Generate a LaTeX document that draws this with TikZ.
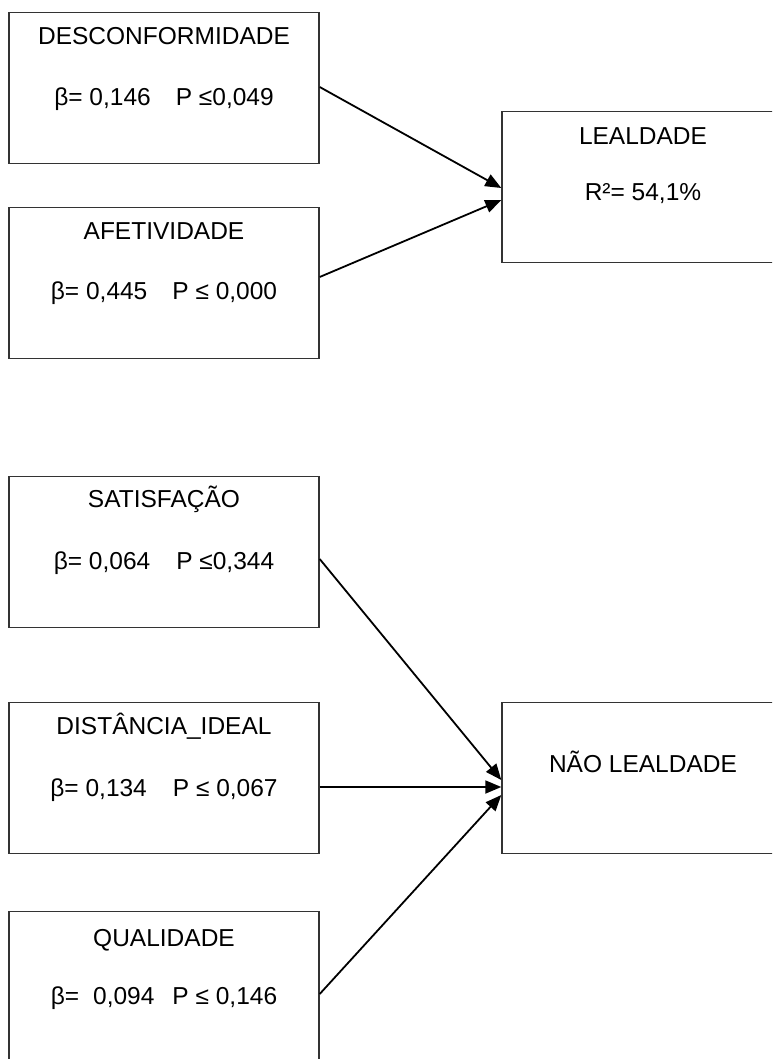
\documentclass[tikz,border=0pt]{standalone}
\usepackage{fontspec}
\setmainfont{Liberation Sans}
\usetikzlibrary{arrows.meta}
\definecolor{boxline}{HTML}{333333}
\tikzset{
  box/.style={draw=boxline, line width=1.4pt, fill=white, minimum width=310pt, minimum height=151pt, inner sep=0pt},
  outbox/.style={box, minimum width=282pt},
  txt/.style={anchor=base, inner sep=0pt, font=\fontsize{24.5}{29}\selectfont},
  arr/.style={draw=black, line width=1.8pt, -{Triangle[length=16pt,width=13pt]}}
}
\begin{document}
\begin{tikzpicture}[x=1pt,y=-1pt]
  \useasboundingbox (0,0) rectangle (772,1059);
  \clip (0,0) rectangle (772,1059);
  % predictor boxes
  \node[box] (desc) at (164,88)  {};
  \node[box] (afet) at (164,283) {};
  \node[box] (sat)  at (164,552) {};
  \node[box] (dist) at (164,778) {};
  \node[box] (qual) at (164,987) {};
  % outcome boxes
  \node[outbox] (lea) at (643,187) {};
  \node[outbox] (nlea) at (643,778) {};
  % labels
  \node[txt] (desct) at ([yshift=-33pt]desc.north) {DESCONFORMIDADE};
  \node[txt] (descb) at ([yshift=-94pt]desc.north) {β= 0,146\hspace{25pt}P ≤0,049};
  \node[txt] (afett) at ([yshift=-33pt]afet.north) {AFETIVIDADE};
  \node[txt] (afetb) at ([yshift=-93pt]afet.north) {β= 0,445\hspace{25pt}P ≤ 0,000};
  \node[txt] (satt) at ([yshift=-32pt]sat.north) {SATISFAÇÃO};
  \node[txt] (satb) at ([yshift=-94pt]sat.north) {β= 0,064\hspace{26pt}P ≤0,344};
  \node[txt] (distt) at ([yshift=-33pt]dist.north) {DISTÂNCIA\_IDEAL};
  \node[txt] (distb) at ([yshift=-95pt]dist.north) {β= 0,134\hspace{26pt}P ≤ 0,067};
  \node[txt] (qualt) at ([yshift=-36pt]qual.north) {QUALIDADE};
  \node[txt] (qualb) at ([yshift=-94pt]qual.north) {β=\hspace{14pt}0,094\hspace{18pt}P ≤ 0,146};
  \node[txt] (leat) at ([yshift=-34pt]lea.north) {LEALDADE};
  \node[txt] (leab) at ([yshift=-90pt]lea.north) {R²= 54,1\%};
  \node[txt] (nleat) at ([yshift=-71pt]nlea.north) {NÃO LEALDADE};
  % paths
  \draw[arr] (desc.east |- 0,87)  -- (lea.west |- 0,188);
  \draw[arr] (afet.east |- 0,277) -- (lea.west |- 0,200);
  \draw[arr] (sat.east |- 0,559)  -- (nlea.west |- 0,780);
  \draw[arr] (dist.east |- 0,787) -- (nlea.west |- 0,787);
  \draw[arr] (qual.east |- 0,994) -- (nlea.west |- 0,795);
\end{tikzpicture}
\end{document}
